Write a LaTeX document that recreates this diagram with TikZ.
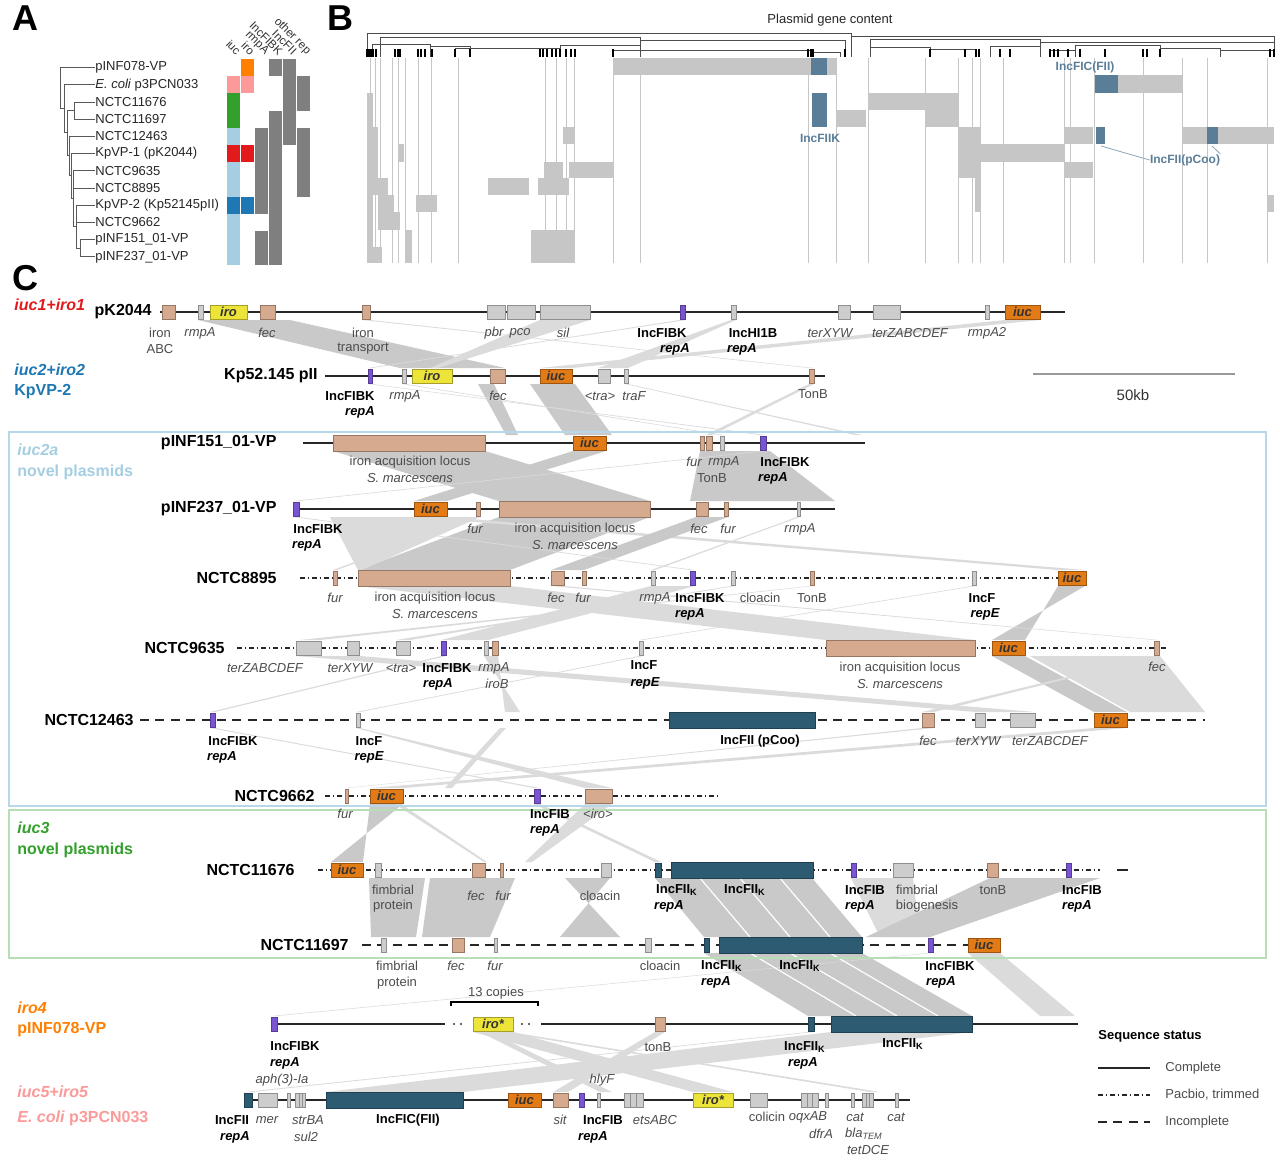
\documentclass[tikz,border=0pt]{standalone}
\usepackage{fontspec}
\setmainfont{Liberation Sans}
\usepackage{tikz}
\usetikzlibrary{positioning}
\definecolor{ir}{HTML}{D5AA8E}
\definecolor{gy}{HTML}{CDCDCD}
\definecolor{yl}{HTML}{EDE43A}
\definecolor{or}{HTML}{E27A16}
\definecolor{pu}{HTML}{7A55D3}
\definecolor{tl}{HTML}{2C5B72}
\definecolor{c1}{HTML}{E31A1C}
\definecolor{c2}{HTML}{1F78B4}
\definecolor{c2a}{HTML}{A6CEE3}
\definecolor{c3}{HTML}{33A02C}
\definecolor{c4}{HTML}{FF7F00}
\definecolor{c5}{HTML}{FB9A99}
\definecolor{hm}{HTML}{7F7F7F}
\definecolor{bg}{HTML}{C6C6C6}
\definecolor{bbl}{HTML}{5B7E98}
\newcommand\fs{\fontsize{6.5}{7.5}\selectfont}
\tikzset{gn/.style={fill=#1,draw=#1!70!black,line width=.3pt}}

\begin{document}
\begin{tikzpicture}[x=.5pt,y=-.5pt,inner sep=0pt]
\tikzstyle{lab}=[font=\fs\itshape,text=black!70]
\tikzstyle{labn}=[font=\fs,text=black!70]
\tikzstyle{inc}=[font=\fs\bfseries]
\tikzstyle{rep}=[font=\fs\bfseries\itshape]
\tikzstyle{nm}=[font=\fontsize{8}{9}\selectfont\bfseries,anchor=east]
\tikzstyle{gi}=[font=\fs\bfseries\itshape,text=black!80]
\tikzstyle{gp}=[font=\fontsize{8}{9.5}\selectfont\bfseries,anchor=west]
\tikzstyle{big}=[font=\fontsize{18}{18}\selectfont\bfseries]
\tikzstyle{bb}=[line width=.75pt,black!85]
\tikzstyle{dd}=[line width=.75pt,black!85,dash pattern=on 2.4pt off 1.4pt on .8pt off 1.4pt]
\tikzstyle{ld}=[line width=1pt,black!85,dash pattern=on 4.5pt off 3.2pt]
\tikzstyle{rb}=[fill=gray!42]
\tikzstyle{rl}=[fill=gray!28]
\tikzstyle{tr}=[gray!70!black,line width=.4pt]
\path[use as bounding box,fill=white] (0,0) rectangle (1280,1164);
\node[big] (pa) at (25,18) {A};
\node[big] (pb) at (340,18) {B};
\node[big] (pc) at (25,278) {C};

\foreach \tx [count=\i] in {pINF078-VP,\textit{E. coli} p3PCN033,NCTC11676,NCTC11697,NCTC12463,KpVP-1 (pK2044),NCTC9635,NCTC8895,KpVP-2 (Kp52145pII),NCTC9662,pINF151\_01-VP,pINF237\_01-VP}
  \node[labn,text=black!85,anchor=west] (a\i) at (95,{50.4+17.2*\i}) {\tx};
\draw[tr] (60,67.6)--(60,108)--(64,108) (64,84.8)--(64,132)--(67,132) (67,110.6)--(67,155)--(69,155)
  (67,110.6)--(74,110.6) (74,102)--(74,119.2) (69,136.4)--(69,175)--(71,175) (71,153.6)--(71,198)--(73,198)
  (73,170.8)--(73,226)--(76,226) (76,205.2)--(76,248)--(80,248) (80,239.6)--(80,256.8);
\foreach \x [count=\i] in {60,64,74,74,69,71,73,73,76,76,80,80}
  \draw[tr] (\x,{50.4+17.2*\i}) -- (a\i.west);
\foreach \cc/\rr/\cl in {2/1/c4,4/1/hm,5/1/hm,1/2/c5,2/2/c5,5/2/hm,6/2/hm,1/3/c3,5/3/hm,6/3/hm,1/4/c3,4/4/hm,5/4/hm,
  1/5/c2a,3/5/hm,4/5/hm,5/5/hm,6/5/hm,1/6/c1,2/6/c1,3/6/hm,4/6/hm,6/6/hm,1/7/c2a,3/7/hm,4/7/hm,6/7/hm,
  1/8/c2a,3/8/hm,4/8/hm,6/8/hm,1/9/c2,2/9/c2,3/9/hm,4/9/hm,1/10/c2a,4/10/hm,1/11/c2a,3/11/hm,4/11/hm,1/12/c2a,3/12/hm,4/12/hm}
  \fill[\cl] ({213+14*\cc},{41.8+17.2*\rr}) rectangle ({226+14*\cc},{59+17.2*\rr});
\foreach \tx [count=\i] in {iuc,iro,rmpA,IncFIBK,IncFII,other rep}
  \node[font=\fontsize{5.8}{7}\selectfont,text=black!80,rotate=-45,anchor=east] (h\i) at ({225+14*\i},53) {\tx};

\node[labn,text=black!85] (bt) at (830,20) {Plasmid gene content};
\foreach \xa in {370,375,380,392,398,405,418,431,458,545,556,566,574,613,640,808,836,868,925,958,972,980,1003,1064,1070,1094,1143,1182,1207,1267}
  \draw[gray!45,line width=.25pt] (\xa,58) -- (\xa,263);
\foreach \xa/\xb/\ya/\yb/\cl in {613/836/58/75/bg,811/827/58/75/bbl,1118/1182/75/93/bg,1095/1118/75/93/bbl,
  868/925/93/110/bg,925/958/93/127/bg,836/866/110/127/bg,812/827/93/127/bbl,
  958/975/127/178/bg,975/981/127/212/bg,1064/1093/127/144/bg,1096/1105/127/144/bbl,1182/1274/127/144/bg,1207/1218/127/144/bbl,563/575/127/144/bg,
  981/1064/144/162/bg,1064/1093/162/178/bg,569/613/162/178/bg,544/563/162/195/bg,488/529/178/195/bg,538/569/178/195/bg,
  416/437/195/212/bg,1267/1274/195/212/bg,384/400/212/230/bg,531/575/230/263/bg,
  367/373/93/263/bg,373/378/127/195/bg,378/388/178/230/bg,388/394/195/230/bg,405/412/230/263/bg,368/382/247/263/bg,398/404/144/162/bg}
  \fill[\cl] (\xa,\ya) rectangle (\xb,\yb);
\foreach \xa/\xb/\h in {367/851/33,851/1274/36,380/640/37,640/845/40,870/1040/39,1040/1274/42,
  372/430/44,430/470/46,455/560/48,560/640/45,613/810/50,810/840/52,870/930/47,930/975/49,
  990/1040/46,1050/1075/50,1075/1160/45,1160/1220/48,1220/1274/50}
  \draw[black!70,line width=.5pt] (\xa,57) -- (\xa,\h) -- (\xb,\h) -- (\xb,57);
\foreach \xa in {367,369,371,373,376,395,398,400,418,421,425,432,455,470,540,543,547,552,556,560,566,571,575,
  613,808,811,813,845,930,965,976,979,1000,1010,1050,1054,1058,1068,1080,1105,1143,1147,1160,1270,1274}
  \draw[black,line width=.6pt] (\xa,57) -- (\xa,49);
\node[font=\fontsize{6}{7}\selectfont\bfseries,text=bbl] (bl1) at (1085,67) {IncFIC(FII)};
\node[font=\fontsize{6}{7}\selectfont\bfseries,text=bbl] (bl2) at (820,138) {IncFIIK};
\node[font=\fontsize{6}{7}\selectfont\bfseries,text=bbl] (bl3) at (1185,160) {IncFII(pCoo)};
\coordinate (fk1) at (1101,146);
\coordinate (fk2) at (1212,146);
\draw[bbl!70,line width=.4pt] (bl3.west) -- (fk1);
\draw[bbl!70,line width=.4pt] (bl3.north east) -- (fk2);

\foreach \pa/\pb/\ya/\qa/\qb/\yb/\st in {
  198/290/320/400/505/368/rb,1005/1040/320/540/572/368/rl,680/686/320/368/372/368/rl,731/736/320/598/628/368/rl,
  362/370/320/809/814/368/rl,540/590/320/430/438/368/rl,
  530/575/384/565/612/435/rb,478/494/384/506/518/435/rb,809/814/384/706/712/435/rl,402/406/384/720/724/435/rl,
  368/372/384/760/766/435/rl,625/628/384/855/862/435/rl,
  333/485/451/499/650/501/rb,573/606/451/414/447/501/rb,700/770/451/690/835/501/rb,760/766/451/293/299/501/rl,
  499/650/517/358/510/570/rb,414/447/517/1058/1085/570/rl,696/728/517/551/584/570/rb,476/480/517/333/337/570/rl,
  293/299/517/690/695/570/rl,797/800/517/651/655/570/rl,330/480/517/358/362/570/rl,
  1058/1085/586/1025/992/640/rb,358/510/586/826/975/640/rl,551/564/586/1154/1159/640/rl,651/695/586/441/488/640/rl,
  731/735/586/396/410/640/rl,972/976/586/639/643/640/rl,810/814/586/300/320/640/rl,
  992/1025/656/1094/1127/712/rb,1030/1160/656/1130/1205/712/rl,296/360/656/976/1035/712/rl,441/446/656/210/215/712/rl,
  639/643/656/356/360/712/rl,1154/1159/656/922/934/712/rl,484/498/656/520/505/712/rl,
  1094/1127/728/370/403/788/rl,210/215/728/534/540/788/rl,922/934/728/345/348/788/rl,356/360/728/585/612/788/rl,
  500/506/728/445/452/788/rl,
  370/403/804/363/331/862/rb,395/401/804/484/487/862/rl,585/612/804/525/532/862/rl,534/540/804/655/661/862/rl,
  369/425/878/371/416/937/rb,430/515/878/422/490/937/rb,565/610/878/620/560/937/rb,655/812/878/704/862/937/rb,
  851/913/878/880/920/937/rl,990/1100/878/866/930/937/rb,
  704/862/953/808/972/1016/rb,928/933/953/271/277/1016/rl,968/1000/953/1040/1075/1016/rl,
  473/513/1032/693/733/1092/rl,480/490/1032/600/612/1092/rl,500/510/1032/870/880/1092/rl,831/972/1032/326/463/1092/rl,
  655/665/1032/553/568/1092/rl,808/814/1032/244/252/1092/rl}
  \fill[\st] (\pa,\ya) -- (\pb,\ya) -- (\qb,\yb) -- (\qa,\yb) -- cycle;
\foreach \pa/\qa in {700/750,740/790,780/830}
  \draw[white,line width=.6pt] (\pa,878) -- (\qa,937);
\foreach \pa/\qa in {750/856,790/897,830/938}
  \draw[white,line width=.6pt] (\pa,953) -- (\qa,1016);

\draw[c2a!80,line width=.8pt] (9,432) rectangle (1266,806);
\draw[c3!35,line width=.8pt] (9,810) rectangle (1266,958);
\node[gp,text=c1] (g1) at (14,305) {\itshape iuc1+iro1};
\node[gp,text=c2] (g2) at (14,370) {\itshape iuc2+iro2};
\node[gp,text=c2,below=4pt of g2.south west,anchor=north west] (g2b) {KpVP-2};
\node[gp,text=c2a] (g3) at (17,450) {\itshape iuc2a};
\node[gp,text=c2a,below=4pt of g3.south west,anchor=north west] (g3b) {novel plasmids};
\node[gp,text=c3] (g4) at (17,828) {\itshape iuc3};
\node[gp,text=c3,below=4pt of g4.south west,anchor=north west] (g4b) {novel plasmids};
\node[gp,text=c4] (g5) at (17,1008) {\itshape iro4};
\node[gp,text=c4,below=4pt of g5.south west,anchor=north west] (g5b) {pINF078-VP};
\node[gp,text=c5] (g6) at (17,1092) {\itshape iuc5+iro5};
\node[gp,text=c5,below=6pt of g6.south west,anchor=north west] (g6b) {\textit{E. coli} p3PCN033};

\begin{scope}[shift={(0,312)}]
\node[nm] (n1) at (152,0) {pK2044};
\draw[bb] (160,0) -- (1065,0);
\foreach \xa/\xb/\cl in {162/175/ir,198/203/gy,210/247/yl,260/275/ir,362/370/ir,487/505/gy,507/535/gy,540/590/gy,
  680/685/pu,731/736/gy,838/850/gy,873/900/gy,985/989/gy,1005/1040/or}
  \draw[gn=\cl] (\xa,-7) rectangle (\xb,7);
\node[gi] (i1a) at (228.5,0) {iro};
\node[gi] (i1b) at (1022.5,0) {iuc};
\foreach \x/\y/\s/\tx [count=\i] in {160/21/labn/iron,160/37/labn/ABC,200/21/lab/rmpA,267/21/lab/fec,363/21/labn/iron,
  363/37/labn/transport,494/21/lab/pbr,520/21/lab/pco,563/21/lab/sil,662/21/inc/IncFIBK,675/37/rep/repA,
  753/21/inc/IncHI1B,742/37/rep/repA,830/21/lab/terXYW,910/21/lab/terZABCDEF,987/21/lab/rmpA2}
  \node[\s] (l1-\i) at (\x,\y) {\tx};
\end{scope}

\draw[gray!80,line width=.8pt] (1033,374) -- (1235,374);
\node[font=\fontsize{7.5}{9}\selectfont,text=black!80] (kb) at (1133,395) {50kb};

\begin{scope}[shift={(0,376)}]
\node[nm] (n2) at (318,0) {Kp52.145 pII};
\draw[bb] (325,0) -- (825,0);
\foreach \xa/\xb/\cl in {368/372/pu,402/406/gy,412/452/yl,490/505/ir,540/572/or,598/610/gy,624/628/gy,809/814/ir}
  \draw[gn=\cl] (\xa,-7) rectangle (\xb,7);
\node[gi] (i2a) at (432,0) {iro};
\node[gi] (i2b) at (556,0) {iuc};
\foreach \x/\y/\s/\tx [count=\i] in {350/20/inc/IncFIBK,360/36/rep/repA,405/20/lab/rmpA,498/20/lab/fec,600/20/lab/<tra>,
  634/20/lab/traF,813/18/labn/TonB}
  \node[\s] (l2-\i) at (\x,\y) {\tx};
\end{scope}

\begin{scope}[shift={(0,443)}]
\node[nm] (n3) at (277,0) {pINF151\_01-VP};
\draw[bb] (303,0) -- (865,0);
\draw[gn=ir] (333,-8) rectangle (485,8);
\foreach \xa/\xb/\cl in {573/606/or,700/704/ir,706/712/ir,720/724/gy,760/766/pu}
  \draw[gn=\cl] (\xa,-7) rectangle (\xb,7);
\node[gi] (i3a) at (589.5,0) {iuc};
\foreach \x/\y/\s/\tx [count=\i] in {410/19/labn/iron acquisition locus,410/35/lab/S. marcescens,694/19/lab/fur,
  724/19/lab/rmpA,712/35/labn/TonB,785/19/inc/IncFIBK,773/35/rep/repA}
  \node[\s] (l3-\i) at (\x,\y) {\tx};
\end{scope}

\begin{scope}[shift={(0,509)}]
\node[nm] (n4) at (277,0) {pINF237\_01-VP};
\draw[bb] (296,0) -- (835,0);
\draw[gn=ir] (499,-8) rectangle (650,8);
\foreach \xa/\xb/\cl in {293/299/pu,414/447/or,476/480/ir,696/708/ir,724/728/ir,797/800/gy}
  \draw[gn=\cl] (\xa,-7) rectangle (\xb,7);
\node[gi] (i4a) at (430.5,0) {iuc};
\foreach \x/\y/\s/\tx [count=\i] in {318/20/inc/IncFIBK,307/36/rep/repA,475/20/lab/fur,575/20/labn/iron acquisition locus,
  575/36/lab/S. marcescens,699/20/lab/fec,728/20/lab/fur,800/20/lab/rmpA}
  \node[\s] (l4-\i) at (\x,\y) {\tx};
\end{scope}

\begin{scope}[shift={(0,578)}]
\node[nm] (n5) at (277,0) {NCTC8895};
\draw[dd] (300,0) -- (1085,0);
\draw[gn=ir] (358,-8) rectangle (510,8);
\foreach \xa/\xb/\cl in {333/337/ir,551/564/ir,582/586/ir,651/655/gy,690/695/pu,731/735/gy,810/814/ir,972/976/gy,1058/1086/or}
  \draw[gn=\cl] (\xa,-7) rectangle (\xb,7);
\node[gi] (i5a) at (1072,0) {iuc};
\foreach \x/\y/\s/\tx [count=\i] in {335/20/lab/fur,435/20/labn/iron acquisition locus,435/36/lab/S. marcescens,556/20/lab/fec,
  583/20/lab/fur,655/20/lab/rmpA,700/20/inc/IncFIBK,690/36/rep/repA,760/20/labn/cloacin,812/20/labn/TonB,
  982/20/inc/IncF,985/36/rep/repE}
  \node[\s] (l5-\i) at (\x,\y) {\tx};
\end{scope}

\begin{scope}[shift={(0,648)}]
\node[nm] (n6) at (225,0) {NCTC9635};
\draw[dd] (237,0) -- (1167,0);
\draw[gn=ir] (826,-8) rectangle (975,8);
\foreach \xa/\xb/\cl in {296/321/gy,347/359/gy,396/410/gy,441/446/pu,484/488/gy,492/498/ir,639/643/gy,992/1025/or,1154/1159/ir}
  \draw[gn=\cl] (\xa,-7) rectangle (\xb,7);
\node[gi] (i6a) at (1008.5,0) {iuc};
\foreach \x/\y/\s/\tx [count=\i] in {265/20/lab/terZABCDEF,350/20/lab/terXYW,401/20/lab/<tra>,447/20/inc/IncFIBK,
  494/20/lab/rmpA,438/36/rep/repA,497/36/lab/iroB,644/17/inc/IncF,645/35/rep/repE,
  900/20/labn/iron acquisition locus,900/36/lab/S. marcescens,1157/19/lab/fec}
  \node[\s] (l6-\i) at (\x,\y) {\tx};
\end{scope}

\begin{scope}[shift={(0,720)}]
\node[nm] (n7) at (134,0) {NCTC12463};
\draw[ld] (140,0) -- (1205,0);
\draw[gn=tl] (669,-8) rectangle (815,8);
\foreach \xa/\xb/\cl in {210/215/pu,356/360/gy,922/934/ir,975/985/gy,1010/1035/gy,1094/1127/or}
  \draw[gn=\cl] (\xa,-7) rectangle (\xb,7);
\node[gi] (i7a) at (1110.5,0) {iuc};
\foreach \x/\y/\s/\tx [count=\i] in {233/21/inc/IncFIBK,222/37/rep/repA,369/21/inc/IncF,369/37/rep/repE,
  760/21/inc/IncFII (pCoo),928/21/lab/fec,978/21/lab/terXYW,1050/21/lab/terZABCDEF}
  \node[\s] (l7-\i) at (\x,\y) {\tx};
\end{scope}

\begin{scope}[shift={(0,796)}]
\node[nm] (n8) at (315,0) {NCTC9662};
\draw[dd] (325,0) -- (718,0);
\foreach \xa/\xb/\cl in {345/348/ir,370/403/or,534/540/pu,585/612/ir}
  \draw[gn=\cl] (\xa,-7) rectangle (\xb,7);
\node[gi] (i8a) at (386.5,0) {iuc};
\foreach \x/\y/\s/\tx [count=\i] in {345/18/lab/fur,550/18/inc/IncFIB,545/34/rep/repA,598/18/lab/<iro>}
  \node[\s] (l8-\i) at (\x,\y) {\tx};
\end{scope}

\begin{scope}[shift={(0,870)}]
\node[nm] (n9) at (295,0) {NCTC11676};
\draw[dd] (318,0) -- (1100,0);
\draw[bb] (1117,0) -- (1128,0);
\draw[gn=tl] (671,-8) rectangle (813,8);
\foreach \xa/\xb/\cl in {331/363/or,375/381/gy,472/485/ir,500/503/ir,601/611/gy,655/661/tl,851/856/pu,893/913/gy,987/998/ir,1066/1071/pu}
  \draw[gn=\cl] (\xa,-7) rectangle (\xb,7);
\node[gi] (i9a) at (347,0) {iuc};
\foreach \x/\y/\s/\tx [count=\i] in {393/20/labn/fimbrial,393/36/labn/protein,476/26/lab/fec,503/26/lab/fur,
  600/26/labn/cloacin,677/20/inc/IncFII\textsubscript{K},669/36/rep/repA,745/20/inc/IncFII\textsubscript{K},
  865/20/inc/IncFIB,860/36/rep/repA,917/20/labn/fimbrial,927/36/labn/biogenesis,993/20/labn/tonB,
  1082/20/inc/IncFIB,1077/36/rep/repA}
  \node[\s] (l9-\i) at (\x,\y) {\tx};
\end{scope}

\begin{scope}[shift={(0,945)}]
\node[nm] (n10) at (349,0) {NCTC11697};
\draw[ld] (362,0) -- (1000,0);
\draw[gn=tl] (719,-8) rectangle (862,8);
\foreach \xa/\xb/\cl in {381/386/gy,452/464/ir,494/497/gy,645/651/gy,704/709/tl,928/933/pu,968/1000/or}
  \draw[gn=\cl] (\xa,-7) rectangle (\xb,7);
\node[gi] (i10a) at (984,0) {iuc};
\foreach \x/\y/\s/\tx [count=\i] in {397/21/labn/fimbrial,397/38/labn/protein,456/21/lab/fec,495/21/lab/fur,
  660/21/labn/cloacin,722/21/inc/IncFII\textsubscript{K},716/37/rep/repA,800/21/inc/IncFII\textsubscript{K},
  950/21/inc/IncFIBK,941/37/rep/repA}
  \node[\s] (l10-\i) at (\x,\y) {\tx};
\end{scope}

\begin{scope}[shift={(0,1024)}]
\draw[bb] (272,0) -- (445,0) (541,0) -- (1078,0);
\foreach \xa in {454,461,522,529}
  \fill[black!80] (\xa,0) circle (.6pt);
\draw[gn=tl] (831,-8) rectangle (972,8);
\foreach \xa/\xb/\cl in {271/277/pu,473/513/yl,655/665/ir,808/814/tl}
  \draw[gn=\cl] (\xa,-7) rectangle (\xb,7);
\node[gi] (i11a) at (493,0) {iro*};
\draw[line width=1.2pt] (451,-18) -- (451,-22) -- (538,-22) -- (538,-18);
\foreach \x/\y/\s/\tx [count=\i] in {295/22/inc/IncFIBK,285/39/rep/repA,658/23/labn/tonB,805/23/inc/IncFII\textsubscript{K},
  803/39/rep/repA,903/20/inc/IncFII\textsubscript{K},496/-31/labn/13 copies}
  \node[\s] (l11-\i) at (\x,\y) {\tx};
\end{scope}

\begin{scope}[shift={(0,1100)}]
\draw[bb] (244,0) -- (910,0);
\draw[gn=tl] (326,-8) rectangle (463,8);
\foreach \xa/\xb/\cl in {244/252/tl,258/277/gy,287/290/gy,295/299/gy,299/302/gy,302/305/gy,508/541/or,553/568/ir,579/584/pu,
  597/600/gy,624/630/gy,630/636/gy,636/643/gy,693/733/yl,750/767/gy,801/807/gy,807/812/gy,812/818/gy,825/828/gy,
  851/854/gy,862/866/gy,866/869/gy,869/873/gy,895/898/gy}
  \draw[gn=\cl] (\xa,-7) rectangle (\xb,7);
\node[gi] (i12a) at (524.5,0) {iuc};
\node[gi] (i12b) at (713,0) {iro*};
\foreach \x/\y/\s/\tx [count=\i] in {232/20/inc/IncFII,235/37/rep/repA,267/20/lab/mer,282/-20/lab/aph(3)-Ia,308/20/lab/strBA,
  306/37/lab/sul2,408/20/inc/IncFIC(FII),560/20/lab/sit,603/20/inc/IncFIB,593/37/rep/repA,602/-20/lab/hlyF,
  655/20/lab/etsABC,767/17/labn/colicin,808/17/lab/oqxAB,821/34/lab/dfrA,855/17/lab/cat,
  864/34/lab/bla\textsubscript{TEM},868/50/lab/tetDCE,896/17/lab/cat}
  \node[\s] (l12-\i) at (\x,\y) {\tx};
\end{scope}

\node[inc,anchor=west] (lg) at (1098,1036) {Sequence status};
\draw[bb] (1098,1068) -- (1150,1068);
\node[labn,anchor=west] (lg1) at (1165,1068) {Complete};
\draw[dd] (1098,1095) -- (1150,1095);
\node[labn,anchor=west] (lg2) at (1165,1095) {Pacbio, trimmed};
\draw[ld] (1098,1122) -- (1150,1122);
\node[labn,anchor=west] (lg3) at (1165,1122) {Incomplete};
\end{tikzpicture}
\end{document}
